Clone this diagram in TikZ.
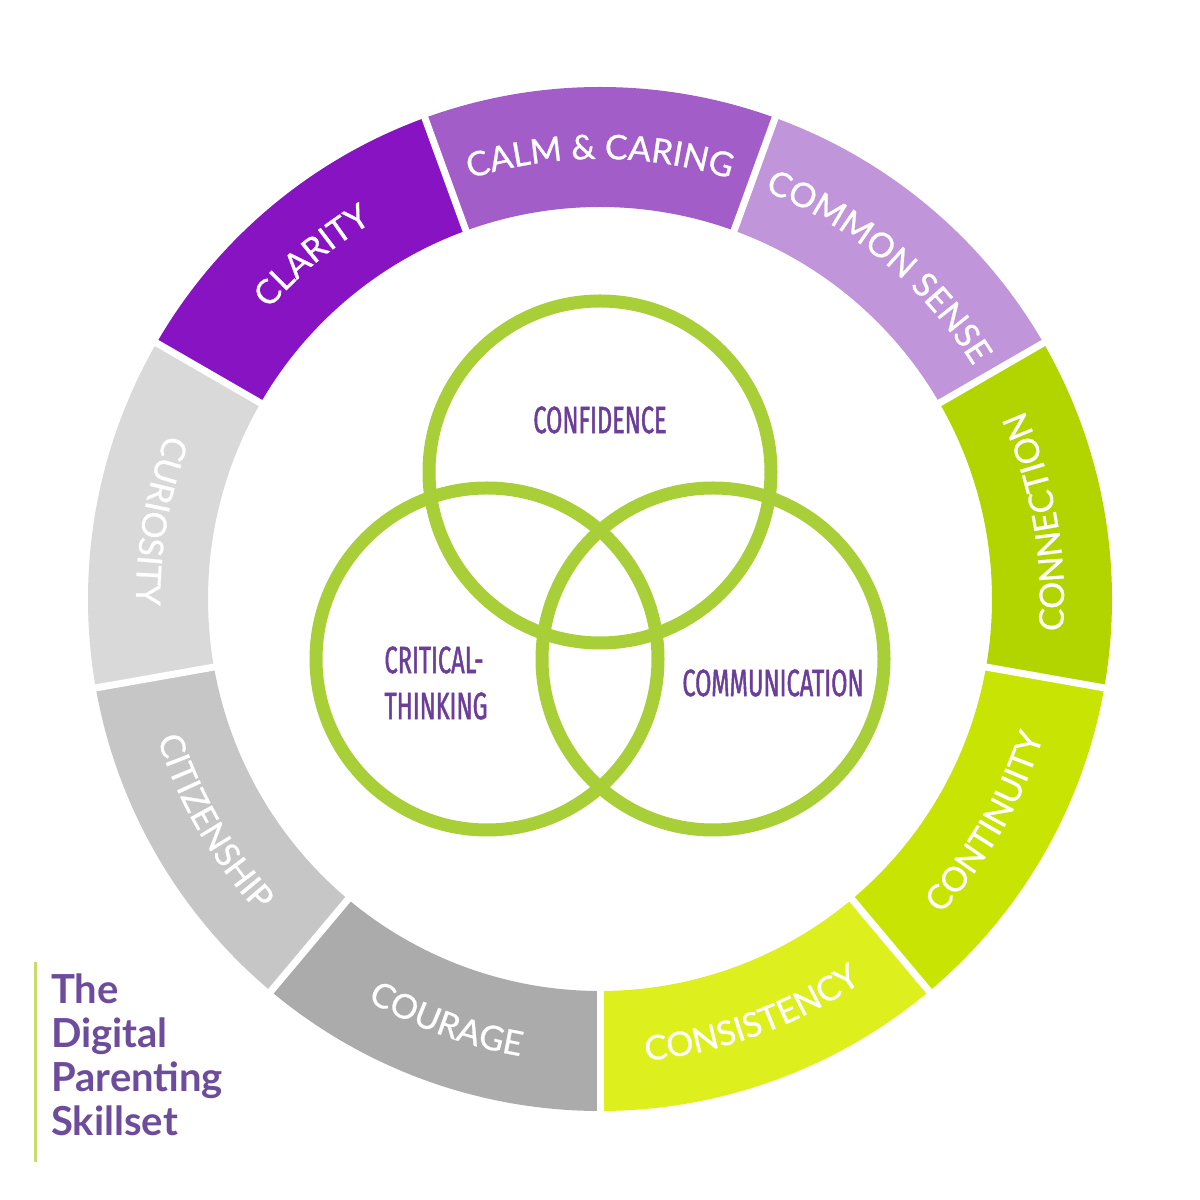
\documentclass[tikz,border=0pt]{standalone}
\usepackage{fontspec}
\setmainfont{Lato}
\newfontfamily\ringfont[FakeBold=0.7]{Lato}
\newfontfamily\vennfont[FakeStretch=0.62,FakeBold=1.2]{Fira Sans}
\usetikzlibrary{decorations.text}
\definecolor{clarc}{HTML}{8713C2}
\definecolor{calmc}{HTML}{A25DC9}
\definecolor{commc}{HTML}{C195DA}
\definecolor{connc}{HTML}{B2D500}
\definecolor{contc}{HTML}{C8E403}
\definecolor{consc}{HTML}{DDF01E}
\definecolor{courc}{HTML}{ABABAB}
\definecolor{citc}{HTML}{C6C6C6}
\definecolor{curc}{HTML}{D9D9D9}
\definecolor{venngreen}{HTML}{A8CF38}
\definecolor{vennpurple}{HTML}{6B3E99}
\definecolor{titlepurple}{HTML}{6D4C9C}
\definecolor{barcolor}{HTML}{C8DC6A}
\newcommand\ringstyle{\ringfont\fontsize{34}{34}\selectfont}
\newcommand\cwlabel[2]{\path[decorate,decoration={text along path,text align=center,text color=white,text={|\ringstyle|#2}}] (#1+30:440) arc[start angle=#1+30,end angle=#1-30,radius=440];}
\newcommand\ccwlabel[2]{\path[decorate,decoration={text along path,text align=center,text color=white,text={|\ringstyle|#2}}] (#1-30:464) arc[start angle=#1-30,end angle=#1+30,radius=464];}
\begin{document}
\begin{tikzpicture}[x=1pt,y=1pt,
  vennline/.style={draw=venngreen,line width=13},
  venntext/.style={text=vennpurple,font=\vennfont\fontsize{38}{46}\selectfont,inner sep=0,align=left},
  gapline/.style={draw=white,line width=7}]
\useasboundingbox[fill=white] (0,0) rectangle (1200,1200);
\begin{scope}[shift={(600,601)}]
  \foreach \a/\c in {-10/connc,30/commc,70/calmc,110/clarc,150/curc,190/citc,230/courc,270/consc,310/contc}{
    \fill[\c] (\a:512) arc[start angle=\a,end angle=\a+40,radius=512] -- (\a+40:392) arc[start angle=\a+40,end angle=\a,radius=392] -- cycle;
  }
  \foreach \a in {-10,30,70,110,150,190,230,270,310}{
    \draw[gapline] (\a:385) -- (\a:520);
  }
  \cwlabel{90}{CALM {\&} CARING}
  \cwlabel{130}{CLARITY}
  \cwlabel{50}{COMMON SENSE}
  \ccwlabel{10}{CONNECTION}
  \ccwlabel{330}{CONTINUITY}
  \ccwlabel{290}{CONSISTENCY}
  \ccwlabel{250}{COURAGE}
  \ccwlabel{210}{CITIZENSHIP}
  \ccwlabel{170}{CURIOSITY}
  \draw[vennline] (0,127) circle[radius=171];
  \draw[vennline] (-113,-60) circle[radius=171];
  \draw[vennline] (113,-60) circle[radius=171];
  \node[venntext] (conf) at (0,179) {CONFIDENCE};
  \node[venntext] (crit) at (-164,-84) {CRITICAL-\\THINKING};
  \node[venntext] (comm) at (173,-84) {COMMUNICATION};
\end{scope}
\draw[draw=barcolor,line width=3] (35,238) -- (35,38);
\node[anchor=north west,inner sep=0,align=left,text=titlepurple,font=\bfseries\fontsize{40}{44}\selectfont] (title) at (51,226) {The\\Digital\\Parenting\\Skillset};
\end{tikzpicture}
\end{document}
